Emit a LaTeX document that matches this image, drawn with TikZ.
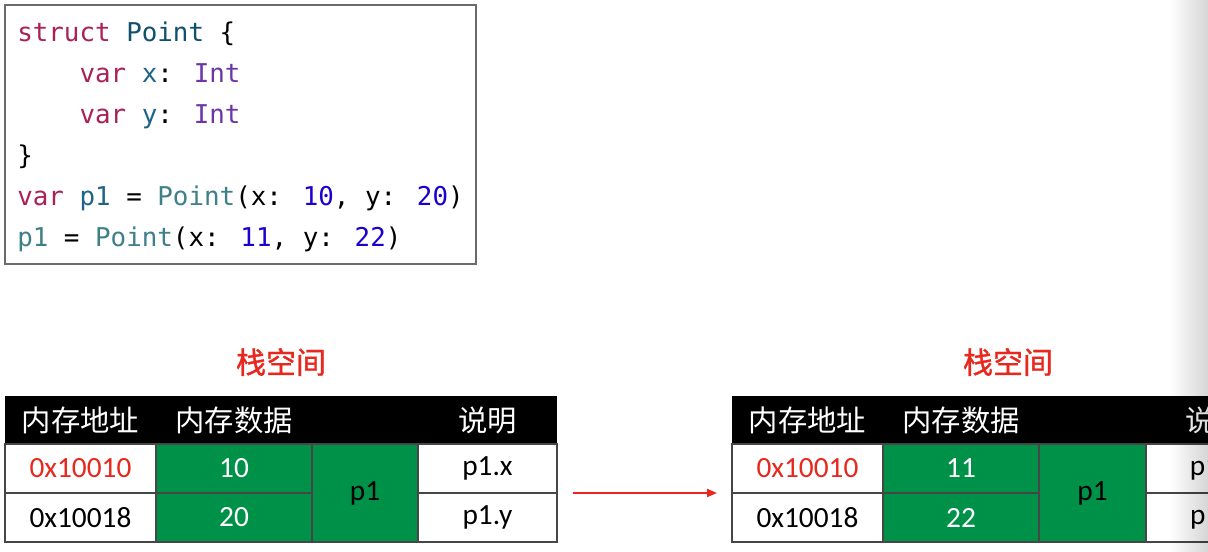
\documentclass[tikz,border=0pt]{standalone}
\usepackage{fontspec}
\setmainfont{Carlito}
\newfontfamily\cjk{Noto Sans CJK SC}
\newfontfamily\cjktitle[FakeBold=1.2]{Noto Sans CJK SC}
\newfontfamily\codefont{DejaVu Sans Mono}
\usetikzlibrary{arrows.meta,fadings}
\definecolor{kw}{RGB}{170,33,88}
\definecolor{tydecl}{RGB}{17,79,110}
\definecolor{propc}{RGB}{30,100,135}
\definecolor{intc}{RGB}{108,54,169}
\definecolor{usec}{RGB}{62,128,135}
\definecolor{numc}{RGB}{28,0,207}
\definecolor{redc}{RGB}{232,40,30}
\definecolor{greenc}{RGB}{0,145,72}
\definecolor{borderc}{RGB}{70,70,70}
\tikzfading[name=fadeRight, left color=transparent!100, right color=transparent!0]
\newcommand\mycell[7]{%
  \node[#6, minimum width={(#4-#2)*0.75pt}, minimum height={(#5-#3)*0.75pt}] (#1) at ({(#2+#4)/2},{(#3+#5)/2}) {#7};}
\begin{document}
\begin{tikzpicture}[x=0.75pt,y=-0.75pt,
  cellbase/.style={rectangle, inner sep=0pt, outer sep=0pt, font=\fontsize{22}{26}\selectfont},
  whitecell/.style={cellbase, fill=white, draw=borderc, line width=1.1pt},
  greencell/.style={cellbase, fill=greenc, draw=borderc, line width=1.1pt},
  headcell/.style={cellbase, fill=black},
  headtext/.style={text=white, font=\fontsize{22}{26}\selectfont\cjk, inner sep=0pt},
  titletext/.style={text=redc, font=\fontsize{22.5}{26}\selectfont\cjktitle, inner sep=0pt},
  codeline/.style={anchor=base west, inner sep=0pt, font=\fontsize{19.4}{23}\selectfont\codefont},
  codebox/.style={rectangle, draw=borderc!80, line width=1.5pt, fill=white, inner sep=0pt},
  arrowline/.style={draw=redc, line width=1.5pt, -{Triangle[length=7.5pt,width=6pt]}}
]
\useasboundingbox (0,0) rectangle (1208,552);
\clip (0,0) rectangle (1208,552);
\fill[white] (0,0) rectangle (1208,552);

% code box
\mycell{codebox}{5}{5}{476}{264}{codebox}{}
\node[codeline] (c1) at (17,42) {\textcolor{kw}{struct} \textcolor{tydecl}{Point} \{};
\node[codeline] (c2) at (17,83) {\hphantom{0000}\textcolor{kw}{var} \textcolor{propc}{x}: \textcolor{intc}{Int}};
\node[codeline] (c3) at (17,124) {\hphantom{0000}\textcolor{kw}{var} \textcolor{propc}{y}: \textcolor{intc}{Int}};
\node[codeline] (c4) at (17,165) {\}};
\node[codeline] (c5) at (17,206) {\textcolor{kw}{var} \textcolor{propc}{p1} = \textcolor{usec}{Point}(x: \textcolor{numc}{10}, y: \textcolor{numc}{20})};
\node[codeline] (c6) at (17,247) {\textcolor{usec}{p1} = \textcolor{usec}{Point}(x: \textcolor{numc}{11}, y: \textcolor{numc}{22})};

% left table
\node[titletext] (titleL) at (281,362) {栈空间};
\mycell{headL}{5}{396}{557}{444}{headcell}{}
\node[headtext] (hL1) at (80.5,420) {内存地址};
\node[headtext] (hL2) at (234,420) {内存数据};
\node[headtext] (hL3) at (487.5,420) {说明};
\mycell{aL1}{5}{444}{156}{493}{whitecell}{\textcolor{redc}{0x10010}}
\mycell{aL2}{5}{493}{156}{542}{whitecell}{0x10018}
\mycell{dL1}{156}{444}{312}{493}{greencell}{\textcolor{white}{10}}
\mycell{dL2}{156}{493}{312}{542}{greencell}{\textcolor{white}{20}}
\mycell{pL}{312}{444}{418}{542}{greencell}{p1}
\mycell{sL1}{418}{444}{557}{493}{whitecell}{p1.x}
\mycell{sL2}{418}{493}{557}{542}{whitecell}{p1.y}

% right table
\node[titletext] (titleR) at (1008,362) {栈空间};
\mycell{headR}{732}{396}{1284}{444}{headcell}{}
\node[headtext] (hR1) at (807.5,420) {内存地址};
\node[headtext] (hR2) at (961,420) {内存数据};
\node[headtext] (hR3) at (1214.5,420) {说明};
\mycell{aR1}{732}{444}{883}{493}{whitecell}{\textcolor{redc}{0x10010}}
\mycell{aR2}{732}{493}{883}{542}{whitecell}{0x10018}
\mycell{dR1}{883}{444}{1039}{493}{greencell}{\textcolor{white}{11}}
\mycell{dR2}{883}{493}{1039}{542}{greencell}{\textcolor{white}{22}}
\mycell{pR}{1039}{444}{1146}{542}{greencell}{p1}
\mycell{sR1}{1146}{444}{1284}{493}{whitecell}{p1.x}
\mycell{sR2}{1146}{493}{1284}{542}{whitecell}{p1.y}

% arrow
\coordinate (arrS) at (573,493);
\coordinate (arrE) at (717,493);
\draw[arrowline] (arrS) -- (arrE);

% right edge shadow
\fill[black!16, blend mode=multiply, path fading=fadeRight] (1170,0) rectangle (1208,552);
\end{tikzpicture}
\end{document}
